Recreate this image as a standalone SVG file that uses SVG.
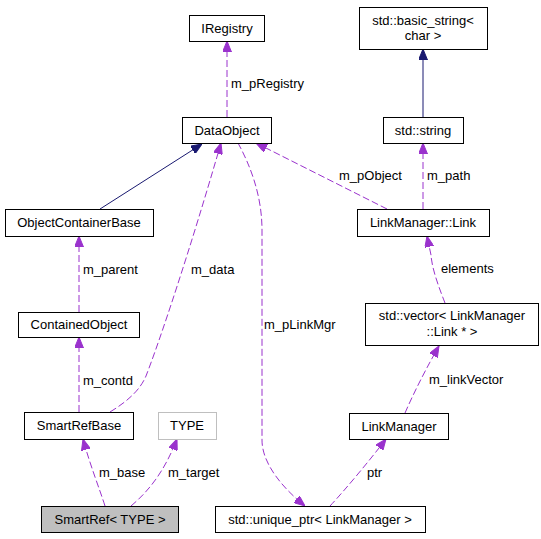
<svg xmlns="http://www.w3.org/2000/svg" width="541" height="539" viewBox="0 0 541 539">
<style>
text{font-family:"Liberation Sans",Arial,sans-serif;font-size:13px;fill:#000}
.n rect{fill:#fff;stroke:#000;stroke-width:1}
.c{text-anchor:middle}
.e{fill:none;stroke:#9a32cd;stroke-width:1;stroke-dasharray:7,3}
.i{fill:none;stroke:#191970;stroke-width:1}
</style>
<defs>
<marker id="ap" viewBox="0 0 11 9" refX="11" refY="4.5" markerWidth="11" markerHeight="9" markerUnits="userSpaceOnUse" orient="auto"><path d="M0,0 L11,4.5 L0,9 z" fill="#9a32cd" stroke="#9a32cd"/></marker>
<marker id="an" viewBox="0 0 11 9" refX="11" refY="4.5" markerWidth="11" markerHeight="9" markerUnits="userSpaceOnUse" orient="auto"><path d="M0,0 L11,4.5 L0,9 z" fill="#191970" stroke="#191970"/></marker>
</defs>
<rect width="541" height="539" fill="#fff"/>
<g id="connectors">
<path class="i" d="M100,209 L202,144" marker-end="url(#an)"/>
<path class="i" d="M423,117 L423,49" marker-end="url(#an)"/>
<path class="e" d="M227,117 L227,41" marker-end="url(#ap)"/>
<path class="e" d="M110,412 C128,401 140,390 146,376 C160,340 190,250 221,143" marker-end="url(#ap)"/>
<path class="e" d="M387,209 L256,143" marker-end="url(#ap)"/>
<path class="e" d="M423,209 L423,143" marker-end="url(#ap)"/>
<path class="e" d="M445,303 C440,290 432,270 431,255 L427,236" marker-end="url(#ap)"/>
<path class="e" d="M405,413 C415,390 428,365 439,346" marker-end="url(#ap)"/>
<path class="e" d="M330,506 C345,490 370,460 386,439" marker-end="url(#ap)"/>
<path class="e" d="M238,143 C250,165 262,195 262,230 L262,440 C262,465 285,490 305,506" marker-end="url(#ap)"/>
<path class="e" d="M79,312 L79,236" marker-end="url(#ap)"/>
<path class="e" d="M79,412 L79,337" marker-end="url(#ap)"/>
<path class="e" d="M105,506 C100,490 90,465 83,439" marker-end="url(#ap)"/>
<path class="e" d="M131,506 C150,490 165,470 177,439" marker-end="url(#ap)"/>
<text x="231" y="88">m_pRegistry</text>
<text x="339" y="180">m_pObject</text>
<text x="427" y="180">m_path</text>
<text x="83" y="274">m_parent</text>
<text x="191" y="274">m_data</text>
<text x="264" y="329">m_pLinkMgr</text>
<text x="441" y="273">elements</text>
<text x="429" y="384">m_linkVector</text>
<text x="83" y="385">m_contd</text>
<text x="99" y="477">m_base</text>
<text x="168" y="477">m_target</text>
<text x="367" y="477">ptr</text>
</g>
<g id="IRegistry" class="n"><rect x="189.5" y="15.5" width="75" height="26"/><text class="c" x="227" y="33">IRegistry</text></g>
<g id="DataObject" class="n"><rect x="182.5" y="117.5" width="89" height="26"/><text class="c" x="227" y="135">DataObject</text></g>
<g id="basic_string" class="n"><rect x="359.5" y="7.5" width="128" height="42"/><text class="c" x="423" y="25">std::basic_string&lt;</text><text class="c" x="423" y="40">char &gt;</text></g>
<g id="string" class="n"><rect x="383.5" y="117.5" width="80" height="26"/><text class="c" x="423" y="135">std::string</text></g>
<g id="Link" class="n"><rect x="357.5" y="209.5" width="132" height="27"/><text class="c" x="423" y="227">LinkManager::Link</text></g>
<g id="ObjectContainerBase" class="n"><rect x="5.5" y="209.5" width="148" height="27"/><text class="c" x="79" y="227">ObjectContainerBase</text></g>
<g id="ContainedObject" class="n"><rect x="18.5" y="312.5" width="121" height="25"/><text class="c" x="79" y="329">ContainedObject</text></g>
<g id="vector" class="n"><rect x="365.5" y="303.5" width="173" height="42"/><text class="c" x="452" y="320">std::vector&lt; LinkManager</text><text class="c" x="452" y="336">::Link * &gt;</text></g>
<g id="SmartRefBase" class="n"><rect x="24.5" y="412.5" width="109" height="27"/><text class="c" x="79" y="430">SmartRefBase</text></g>
<g id="TYPE" class="n"><rect x="158.5" y="412.5" width="58" height="27" style="stroke:#bfbfbf"/><text class="c" x="187" y="430">TYPE</text></g>
<g id="LinkManager" class="n"><rect x="349.5" y="413.5" width="99" height="26"/><text class="c" x="399" y="431">LinkManager</text></g>
<g id="SmartRef" class="n"><rect x="41.5" y="506.5" width="137" height="26" style="fill:#bfbfbf"/><text class="c" x="110" y="524">SmartRef&lt; TYPE &gt;</text></g>
<g id="unique_ptr" class="n"><rect x="215.5" y="506.5" width="210" height="26"/><text class="c" x="320" y="524">std::unique_ptr&lt; LinkManager &gt;</text></g>
</svg>
